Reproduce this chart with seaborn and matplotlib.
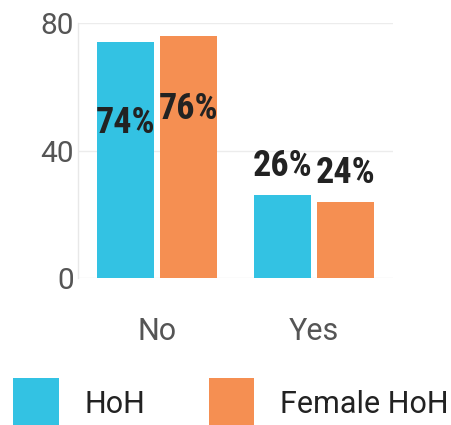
import matplotlib
matplotlib.use("Agg")
import matplotlib.pyplot as plt
import seaborn as sns
import pandas as pd

categories = ["No", "Yes"]
series = ["HoH", "Female HoH"]
hoh_values = [74, 26]
female_values = [76, 24]
value_labels = ["74%", "26%", "76%", "24%"]
label_y = [45.6, 32.2, 49.9, 29.8]
yticks = [0, 40, 80]
colors = ["#33C2E3", "#F58F52"]

df = pd.DataFrame({
    "answer": categories * 2,
    "group": [series[0]] * 2 + [series[1]] * 2,
    "value": hoh_values + female_values,
})

sns.set_theme(style="white")
plt.rcParams["font.family"] = ["Roboto", "DejaVu Sans"]

fig = plt.figure(figsize=(4.51, 4.25), dpi=100)
ax = fig.add_axes([78 / 451, 1 - 278.3 / 425, 315 / 451, 255 / 425])

sns.barplot(data=df, x="answer", y="value", hue="group", order=categories,
            hue_order=series, palette=colors, width=0.802, gap=0.095,
            saturation=1, ax=ax, linewidth=0)

ax.set_xlim(-0.5, 1.5)
ax.set_ylim(0, 80)
ax.set_yticks(yticks)
ax.set_yticklabels([str(t) for t in yticks])
ax.set_xlabel("")
ax.set_ylabel("")
ax.yaxis.grid(True, color="#ececec", linewidth=1)
ax.set_axisbelow(True)
for s in ["top", "right", "bottom"]:
    ax.spines[s].set_visible(False)
ax.spines["left"].set_color("#e8e8e8")
ax.spines["left"].set_linewidth(1)
ax.tick_params(axis="y", length=0, pad=3, labelsize=21.5, labelcolor="#555555")
ax.tick_params(axis="x", length=0, pad=28, labelsize=22, labelcolor="#555555")

for patch, txt, yy in zip(ax.patches, value_labels, label_y):
    cx = patch.get_x() + patch.get_width() / 2
    ax.text(cx, yy, txt, ha="center", va="baseline",
            family=["Roboto Condensed", "DejaVu Sans"],
            fontweight="bold", fontsize=26, color="#222222")

handles, labels = ax.get_legend_handles_labels()
if ax.get_legend() is not None:
    ax.get_legend().remove()
fig.legend(handles, labels, loc="upper left",
           bbox_to_anchor=(13 / 451, 1 - 378 / 425), ncol=2, frameon=False,
           borderpad=0, borderaxespad=0, fontsize=22, handlelength=1.5,
           handleheight=2.2, handletextpad=0.85, columnspacing=2.06,
           labelcolor="#222222")

fig.savefig("out.png", dpi=100)
